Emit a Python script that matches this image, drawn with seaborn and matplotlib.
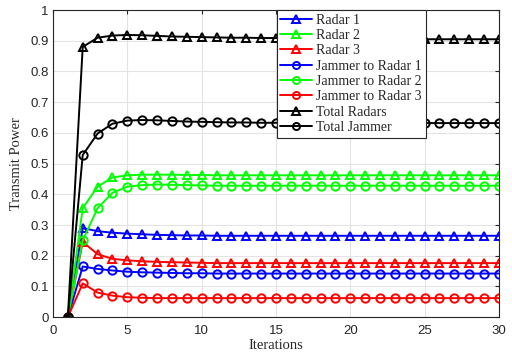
import numpy as np
import pandas as pd
import matplotlib
matplotlib.use("Agg")
import matplotlib.pyplot as plt
import seaborn as sns

iterations = list(range(1, 31))
radar1 = [0, 0.290, 0.280, 0.275, 0.272, 0.270, 0.268, 0.267, 0.266, 0.266] + [0.265] * 20
radar2 = [0, 0.355, 0.425, 0.455, 0.462, 0.464, 0.464, 0.464, 0.463, 0.463] + [0.462] * 20
radar3 = [0, 0.245, 0.205, 0.190, 0.185, 0.182, 0.180, 0.179, 0.178, 0.177] + [0.176] * 20
jam1 = [0, 0.165, 0.157, 0.152, 0.148, 0.146, 0.145, 0.144, 0.143, 0.143] + [0.142] * 20
jam2 = [0, 0.250, 0.355, 0.405, 0.425, 0.430, 0.432, 0.431, 0.430, 0.429] + [0.428] * 20
jam3 = [0, 0.110, 0.080, 0.070, 0.065, 0.063, 0.062, 0.062, 0.062, 0.062] + [0.062] * 20
total_radars = [0, 0.880, 0.910, 0.917, 0.919, 0.918, 0.916, 0.914, 0.913, 0.912,
                0.911, 0.910, 0.910, 0.909, 0.909, 0.908, 0.908, 0.907, 0.907, 0.907,
                0.906, 0.906, 0.906, 0.906, 0.905, 0.905, 0.905, 0.905, 0.905, 0.905]
total_jammer = [0, 0.528, 0.598, 0.630, 0.640, 0.642, 0.641, 0.639, 0.637, 0.636,
                0.635, 0.634, 0.634, 0.633, 0.633, 0.633, 0.633, 0.632, 0.632, 0.632,
                0.632, 0.632, 0.632, 0.632, 0.632, 0.632, 0.632, 0.632, 0.632, 0.632]

series = [
    ("Radar 1", radar1, "#0000ff", "^"),
    ("Radar 2", radar2, "#00ff00", "^"),
    ("Radar 3", radar3, "#ff0000", "^"),
    ("Jammer to Radar 1", jam1, "#0000ff", "o"),
    ("Jammer to Radar 2", jam2, "#00ff00", "o"),
    ("Jammer to Radar 3", jam3, "#ff0000", "o"),
    ("Total Radars", total_radars, "#000000", "^"),
    ("Total Jammer", total_jammer, "#000000", "o"),
]

sns.set_style("white")
plt.rcParams["font.family"] = ["Liberation Sans", "DejaVu Sans"]

fig = plt.figure(figsize=(5.12, 3.6), dpi=100)
ax = fig.add_axes([0.1035, 0.119, 0.871, 0.853])

for name, vals, col, mk in series:
    df = pd.DataFrame({"Iterations": iterations, "Power": vals})
    sns.lineplot(data=df, x="Iterations", y="Power", ax=ax, color=col, marker=mk,
                 markersize=6, markerfacecolor="none", markeredgecolor=col,
                 markeredgewidth=1.4, linewidth=1.4, label=name)

ax.set_xlim(0, 30)
ax.set_ylim(0, 1)
ax.set_xticks(np.arange(0, 31, 5))
ax.set_yticks(np.round(np.arange(0, 1.01, 0.1), 1))
ax.set_yticklabels(["0", "0.1", "0.2", "0.3", "0.4", "0.5", "0.6", "0.7", "0.8", "0.9", "1"])
ax.grid(True, color="#e3e3e3", linewidth=0.8)
ax.tick_params(direction="in", length=3, labelsize=9.5, colors="#262626",
               top=True, right=True, labelcolor="#262626")
ax.tick_params(axis="x", pad=6)
ax.tick_params(axis="y", pad=3)
for sp in ax.spines.values():
    sp.set_color("#262626")
    sp.set_linewidth(0.8)
ax.set_xlabel("Iterations", family="Liberation Serif", fontsize=10.5, labelpad=1)
ax.set_ylabel("Transmit Power", family="Liberation Serif", fontsize=10.5, labelpad=5)

leg = ax.legend(loc="upper left", bbox_to_anchor=(0.502, 1.0), prop={"family": "Liberation Serif", "size": 10},
                frameon=True, fancybox=False, edgecolor="#262626", framealpha=1,
                borderpad=0.25, labelspacing=0.17, handlelength=2.3, handletextpad=0.3,
                borderaxespad=0, markerscale=0.85)
leg.get_frame().set_linewidth(0.8)

fig.savefig("out.png", dpi=100)
